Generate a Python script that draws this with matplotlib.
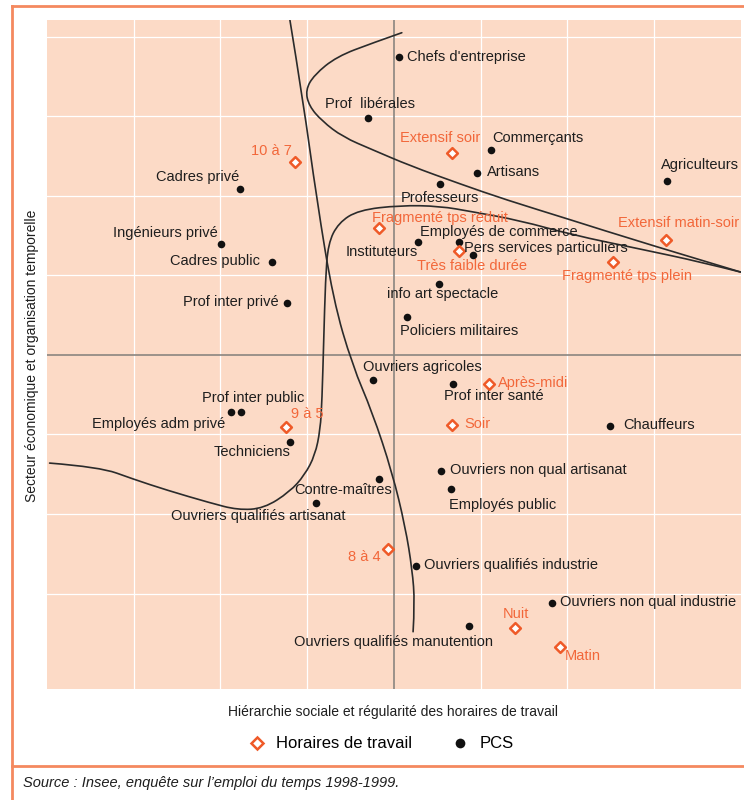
import matplotlib.pyplot as plt
from matplotlib.lines import Line2D
from matplotlib.path import Path
from matplotlib.patches import PathPatch
import numpy as np

plt.rcParams['font.family'] = ['Liberation Sans', 'DejaVu Sans']

# PCS (catégories socioprofessionnelles) : coordonnées sur les deux axes
pcs_names = [
    "Chefs d'entreprise", "Prof  libérales", "Commerçants", "Artisans",
    "Professeurs", "Agriculteurs", "Cadres privé", "Ingénieurs privé",
    "Cadres public", "Prof inter privé", "Instituteurs", "Employés de commerce",
    "Pers services particuliers", "info art spectacle", "Policiers militaires",
    "Ouvriers agricoles", "Prof inter santé", "Employés adm privé",
    "Prof inter public", "Techniciens", "Contre-maîtres",
    "Ouvriers qualifiés artisanat", "Ouvriers non qual artisanat",
    "Employés public", "Chauffeurs", "Ouvriers qualifiés industrie",
    "Ouvriers non qual industrie", "Ouvriers qualifiés manutention",
]
pcs_x = [0.06, -0.30, 1.12, 0.96, 0.53, 3.15, -1.78, -1.99, -1.41, -1.23,
         0.28, 0.75, 0.91, 0.52, 0.15, -0.24, 0.68, -1.88, -1.76, -1.20,
         -0.17, -0.90, 0.54, 0.66, 2.49, 0.25, 1.82, 0.86]
pcs_y = [3.74, 2.98, 2.57, 2.29, 2.15, 2.18, 2.08, 1.40, 1.17, 0.65,
         1.42, 1.42, 1.25, 0.89, 0.48, -0.32, -0.36, -0.72, -0.72, -1.10,
         -1.56, -1.86, -1.46, -1.69, -0.89, -2.65, -3.12, -3.41]

# horaires de travail
hor_names = [
    "10 à 7", "Extensif soir", "Fragmenté tps réduit", "Très faible durée",
    "Extensif matin-soir", "Fragmenté tps plein", "Après-midi", "9 à 5",
    "Soir", "8 à 4", "Nuit", "Matin",
]
hor_x = [-1.14, 0.67, -0.17, 0.75, 3.13, 2.53, 1.10, -1.25, 0.67, -0.07, 1.39, 1.91]
hor_y = [2.42, 2.54, 1.59, 1.31, 1.44, 1.17, -0.36, -0.91, -0.88, -2.44, -3.43, -3.67]

# courbes de séparation des groupes (points de contrôle)
curve_a_x = [-1.20, -1.05, -0.89, -0.70, -0.48, -0.25, -0.02, 0.13, 0.21, 0.24, 0.22]
curve_a_y = [4.21, 3.21, 1.95, 0.69, -0.13, -0.72, -1.48, -2.16, -2.70, -3.12, -3.48]

curve_b_x = [0.09, -0.25, -0.66, -0.92, -1.02, -0.98, -0.83, -0.59, -0.25, 0.18,
             0.76, 1.29, 2.03, 2.84, 4.00]
curve_b_y = [4.05, 3.92, 3.75, 3.52, 3.33, 3.13, 2.94, 2.74, 2.58, 2.38,
             2.15, 1.95, 1.70, 1.42, 1.04]

curve_c_x = [-3.97, -3.39, -3.01, -2.62, -2.12, -1.80, -1.50, -1.20, -1.03, -0.91,
             -0.85, -0.83, -0.81, -0.79, -0.76, -0.64, -0.41, 0.07, 0.53, 0.90,
             1.45, 2.05, 2.84, 3.53, 4.00]
curve_c_y = [-1.36, -1.41, -1.56, -1.70, -1.86, -1.95, -1.93, -1.72, -1.51, -1.26,
             -0.94, -0.57, 0.19, 0.94, 1.40, 1.66, 1.82, 1.88, 1.87, 1.80,
             1.69, 1.51, 1.33, 1.17, 1.04]

# placement des étiquettes (décalage en pixels, alignement)
pcs_lbl = [
    (8, 0, 'left'), (2, 14, 'center'), (1, 12, 'left'), (10, 1, 'left'),
    (0, -14, 'center'), (-6, 16, 'left'), (0, 12, 'right'), (-4, 11, 'right'),
    (-12, 1, 'right'), (-9, 1, 'right'), (0, -10, 'right'), (-39, 10, 'left'),
    (-9, 7, 'left'), (-52, -10, 'left'), (-7, -14, 'left'), (-10, 13, 'left'),
    (-9, -12, 'left'), (-6, -12, 'right'), (-39, 14, 'left'), (1, -10, 'right'),
    (13, -11, 'right'), (30, -13, 'right'), (9, 1, 'left'), (-2, -16, 'left'),
    (13, 1, 'left'), (8, 1, 'left'), (8, 1, 'left'), (24, -16, 'right'),
]
hor_lbl = [
    (-3, 11, 'right'), (-12, 15, 'center'), (-7, 10, 'left'), (13, -15, 'center'),
    (13, 17, 'center'), (14, -14, 'center'), (9, 1, 'left'), (5, 13, 'left'),
    (12, 1, 'left'), (-7, -8, 'right'), (1, 14, 'center'), (5, -9, 'left'),
]

ORANGE = '#EF5A28'
ORANGE_TXT = '#F2673A'
PEACH = '#FCDAC6'
INK = '#1e1e1e'


def smooth_curve(xs, ys):
    # courbe quadratique passant par les milieux des points de contrôle
    pts = np.column_stack([xs, ys])
    verts = [pts[0]]
    codes = [Path.MOVETO]
    n = len(pts)
    for i in range(1, n - 1):
        end = pts[-1] if i == n - 2 else (pts[i] + pts[i + 1]) / 2
        verts += [pts[i], end]
        codes += [Path.CURVE3, Path.CURVE3]
    return Path(verts, codes)


fig = plt.figure(figsize=(7.44, 8.0), dpi=100)
ax = fig.add_axes([47 / 744, 1 - 689 / 800, 694 / 744, 669 / 800])
ax.set_facecolor(PEACH)
ax.set_xlim(-4.0, 4.0)
ax.set_ylim(-4.20, 4.21)

for gx in [-3, -2, -1, 1, 2, 3]:
    ax.axvline(gx, color='white', lw=0.9, zorder=0)
for gy in [-3, -2, -1, 1, 2, 3, 4]:
    ax.axhline(gy, color='white', lw=0.9, zorder=0)
ax.axvline(0, color='#8a8580', lw=1.2, zorder=1)
ax.axhline(0, color='#8a8580', lw=1.2, zorder=1)

for cx, cy in [(curve_a_x, curve_a_y), (curve_b_x, curve_b_y), (curve_c_x, curve_c_y)]:
    ax.add_patch(PathPatch(smooth_curve(cx, cy), fill=False, edgecolor='#2b2b2b',
                           lw=1.2, zorder=2, capstyle='round'))

ax.scatter(pcs_x, pcs_y, s=30, color='#111111', zorder=4, linewidths=0)
ax.scatter(hor_x, hor_y, s=30, marker='D', facecolor='white', edgecolor=ORANGE,
           linewidths=1.8, zorder=4)

for name, x, y, (dx, dy, ha) in zip(pcs_names, pcs_x, pcs_y, pcs_lbl):
    ax.annotate(name, (x, y), xytext=(dx, dy), textcoords='offset pixels',
                ha=ha, va='center', fontsize=10.5, color=INK, zorder=5)
for name, x, y, (dx, dy, ha) in zip(hor_names, hor_x, hor_y, hor_lbl):
    ax.annotate(name, (x, y), xytext=(dx, dy), textcoords='offset pixels',
                ha=ha, va='center', fontsize=10.5, color=ORANGE_TXT, zorder=5)

ax.set_xticks([])
ax.set_yticks([])
for sp in ax.spines.values():
    sp.set_visible(False)

fig.text(393 / 744, 1 - 712 / 800, "Hiérarchie sociale et régularité des horaires de travail",
         ha='center', va='center', fontsize=10, color=INK)
fig.text(32 / 744, 1 - 356 / 800, "Secteur économique et organisation temporelle",
         ha='center', va='center', rotation=90, fontsize=10, color=INK)

handles = [
    Line2D([], [], ls='none', marker='D', ms=6, mfc='white', mec=ORANGE, mew=1.8,
           label='Horaires de travail'),
    Line2D([], [], ls='none', marker='o', ms=7, mfc='#111111', mec='none', label='PCS'),
]
fig.legend(handles=handles, loc='center', bbox_to_anchor=(381 / 744, 1 - 744 / 800),
           ncol=2, frameon=False, fontsize=12, handlelength=1.0, handletextpad=0.65,
           columnspacing=2.4)

# cadre orange
frame = dict(color='#F4895F', lw=2, transform=fig.transFigure)
fig.add_artist(Line2D([12 / 744, 12 / 744], [0, 1 - 6 / 800], **frame))
fig.add_artist(Line2D([12 / 744, 1], [1 - 6 / 800, 1 - 6 / 800], **frame))
fig.add_artist(Line2D([12 / 744, 1], [1 - 766 / 800, 1 - 766 / 800], **frame))

fig.text(23 / 744, 1 - 783 / 800, "Source : Insee, enquête sur l’emploi du temps 1998-1999.",
         ha='left', va='center', fontsize=10.5, style='italic', color=INK)

fig.savefig('out.png', dpi=100)
